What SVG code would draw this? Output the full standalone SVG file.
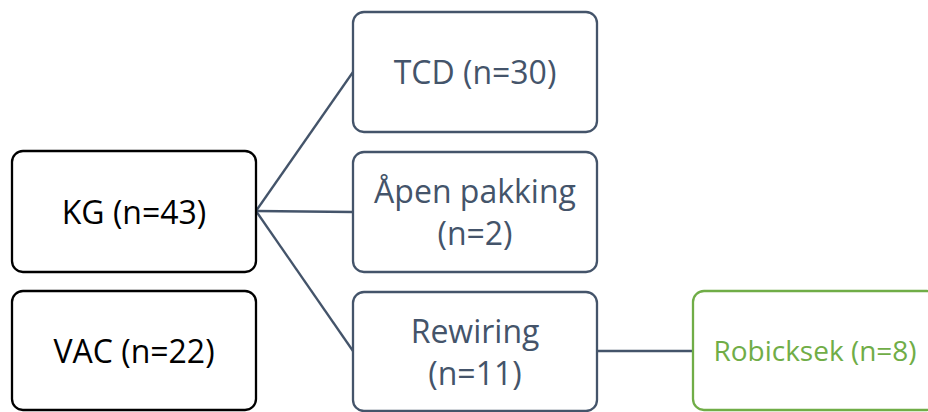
<svg xmlns="http://www.w3.org/2000/svg" width="928" height="412" viewBox="0 0 928 412">
<style>
.box{fill:#fff;stroke-width:2.3}
.blk{stroke:#000}
.sl{stroke:#44546A}
.gr{stroke:#70AD47}
text{font-family:"Open Sans","Noto Sans",sans-serif;font-size:32px;text-anchor:middle}
.tb{fill:#000}
.ts{fill:#44546A}
.tg{fill:#70AD47;font-size:28px}
.con{stroke:#44546A;stroke-width:2.3;fill:none}
</style>
<rect width="928" height="412" fill="#fff"/>
<g id="connectors">
<line class="con" x1="256" y1="211" x2="353" y2="72"/>
<line class="con" x1="256" y1="211" x2="353" y2="212"/>
<line class="con" x1="256" y1="211" x2="353" y2="351"/>
<line class="con" x1="597" y1="351" x2="693" y2="351"/>
</g>
<g id="kg"><rect class="box blk" x="12" y="151" width="244" height="121" rx="11"/><text class="tb" x="134" y="224">KG (n=43)</text></g>
<g id="vac"><rect class="box blk" x="12" y="291" width="244" height="119" rx="11"/><text class="tb" x="134" y="363">VAC (n=22)</text></g>
<g id="tcd"><rect class="box sl" x="353" y="12" width="244" height="120" rx="11"/><text class="ts" x="475" y="84">TCD (n=30)</text></g>
<g id="apen"><rect class="box sl" x="353" y="152" width="244" height="120" rx="11"/><text class="ts" x="475" y="203">Åpen pakking</text><text class="ts" x="475" y="245">(n=2)</text></g>
<g id="rewiring"><rect class="box sl" x="353" y="292" width="244" height="119" rx="11"/><text class="ts" x="475" y="343">Rewiring</text><text class="ts" x="475" y="385">(n=11)</text></g>
<g id="robicksek"><rect class="box gr" x="693" y="291" width="245" height="119" rx="11"/><text class="tg" x="815" y="361">Robicksek (n=8)</text></g>
</svg>
